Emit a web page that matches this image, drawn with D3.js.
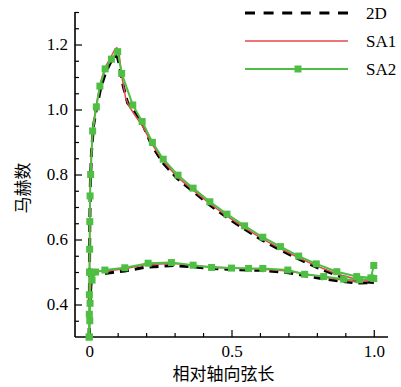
<!DOCTYPE html>
<html>
<head>
<meta charset="utf-8">
<script src="https://cdn.jsdelivr.net/npm/d3@7"></script>
<style>
  body { margin: 0; background: #fff; }
</style>
</head>
<body>
<svg id="chart" width="401" height="387"></svg>
<script>
// 2D (black dashed)
const d2UpperX = [0, 0.001, 0.002, 0.004, 0.008, 0.015, 0.025, 0.04, 0.056, 0.075, 0.09, 0.1, 0.11, 0.12, 0.135, 0.155, 0.19, 0.22, 0.26, 0.31, 0.365, 0.424, 0.484, 0.546, 0.61, 0.672, 0.736, 0.798, 0.87, 0.915, 0.96, 1.0]
const d2UpperM = [0.30, 0.50, 0.65, 0.77, 0.87, 0.95, 1.0, 1.065, 1.11, 1.145, 1.165, 1.16, 1.12, 1.07, 1.02, 1.0, 0.95, 0.89, 0.835, 0.787, 0.748, 0.706, 0.668, 0.632, 0.597, 0.568, 0.540, 0.515, 0.490, 0.475, 0.470, 0.468]
const d2LowerX = [0, 0.002, 0.006, 0.012, 0.025, 0.06, 0.125, 0.2, 0.3, 0.4, 0.5, 0.6, 0.7, 0.8, 0.9, 0.95, 1.0]
const d2LowerM = [0.30, 0.40, 0.46, 0.49, 0.497, 0.496, 0.503, 0.515, 0.52, 0.513, 0.508, 0.505, 0.498, 0.482, 0.47, 0.466, 0.467]

// SA1 (red)
const sa1UpperX = [0, 0.001, 0.002, 0.004, 0.008, 0.015, 0.025, 0.04, 0.056, 0.075, 0.09, 0.097, 0.105, 0.115, 0.128, 0.14, 0.155, 0.19, 0.22, 0.26, 0.31, 0.365, 0.424, 0.484, 0.546, 0.61, 0.672, 0.736, 0.798, 0.87, 0.94, 0.99, 1.0]
const sa1UpperM = [0.30, 0.50, 0.66, 0.78, 0.88, 0.96, 1.015, 1.085, 1.13, 1.16, 1.185, 1.19, 1.17, 1.10, 1.035, 1.01, 0.99, 0.945, 0.894, 0.841, 0.792, 0.752, 0.71, 0.672, 0.636, 0.601, 0.572, 0.544, 0.519, 0.494, 0.478, 0.474, 0.49]
const sa1LowerX = [0, 0.002, 0.006, 0.012, 0.025, 0.06, 0.125, 0.2, 0.3, 0.4, 0.5, 0.6, 0.7, 0.8, 0.9, 0.95, 1.0]
const sa1LowerM = [0.30, 0.40, 0.465, 0.495, 0.502, 0.503, 0.51, 0.523, 0.526, 0.518, 0.512, 0.509, 0.503, 0.488, 0.474, 0.47, 0.475]

// SA2 (green, square markers)
const sa2UpperX = [0, 0.0003, 0.0006, 0.001, 0.0015, 0.002, 0.003, 0.005, 0.012, 0.025, 0.0375, 0.056, 0.078, 0.1, 0.114, 0.153, 0.186, 0.222, 0.26, 0.312, 0.365, 0.424, 0.484, 0.546, 0.61, 0.672, 0.736, 0.798, 0.87, 0.94, 0.99, 1.0]
const sa2UpperM = [0.30, 0.37, 0.43, 0.50, 0.57, 0.655, 0.734, 0.80, 0.934, 1.008, 1.072, 1.125, 1.155, 1.178, 1.111, 1.014, 0.963, 0.899, 0.847, 0.798, 0.758, 0.716, 0.678, 0.642, 0.607, 0.578, 0.549, 0.525, 0.501, 0.486, 0.482, 0.52]
const sa2LowerX = [0, 0.002, 0.003, 0.002, 0.01, 0.022, 0.055, 0.125, 0.207, 0.289, 0.365, 0.43, 0.5, 0.56, 0.61, 0.698, 0.757, 0.824, 0.894, 0.95, 1.0]
const sa2LowerM = [0.30, 0.35, 0.404, 0.499, 0.475, 0.50, 0.506, 0.513, 0.527, 0.529, 0.521, 0.514, 0.512, 0.511, 0.511, 0.506, 0.493, 0.486, 0.478, 0.476, 0.48]

const xTicks = [0, 0.5, 1.0]
const yTicks = [0.4, 0.6, 0.8, 1.0, 1.2]
const legendLabels = ["2D", "SA1", "SA2"]

const red = "#e4474b"
const green = "#4fbf44"
const serif = '"Liberation Serif", "Times New Roman", "DejaVu Serif", serif'
const cjk = '"Noto Sans CJK SC", sans-serif'

const svg = d3.select("#chart")
const margin = {top: 12, right: 13, bottom: 50, left: 75}
const width = 401, height = 387

const x = d3.scaleLinear().domain([-0.05, 1.05]).range([margin.left, width - margin.right])
const y = d3.scaleLinear().domain([0.3, 1.3]).range([height - margin.bottom, margin.top])

const zip = (xs, ms) => xs.map((v, i) => [v, ms[i]])
const line = d3.line().x(d => x(d[0])).y(d => y(d[1]))

// axes
const xAxis = svg.append("g")
    .attr("transform", `translate(0, ${y(0.3)})`)
    .call(d3.axisBottom(x).tickValues(d3.range(0, 1.0001, 0.1)).tickSize(-4).tickFormat(""))
xAxis.select(".domain").attr("d", `M${x(-0.05)},0H${x(1.05)}`)
xAxis.selectAll(".tick").filter(d => xTicks.some(t => Math.abs(t - d) < 1e-6))
    .select("line").attr("y2", -7)
svg.append("g")
    .attr("transform", `translate(0, ${y(0.3)})`)
    .call(d3.axisBottom(x).tickValues(xTicks).tickSize(0).tickPadding(8).tickFormat(d => d === 0 ? "0" : d3.format(".1f")(d)))
    .call(g => g.select(".domain").remove())
    .selectAll("text").style("font-size", "17px").style("font-family", serif).attr("fill", "#000")

const yAxis = svg.append("g")
    .attr("transform", `translate(${x(-0.05)}, 0)`)
    .call(d3.axisLeft(y).tickValues(d3.range(0.35, 1.3001, 0.05)).tickSize(-4).tickFormat(""))
yAxis.select(".domain").attr("d", `M0,${y(0.3)}V${y(1.3)}`)
yAxis.selectAll(".tick").filter(d => yTicks.some(t => Math.abs(t - d) < 1e-6))
    .select("line").attr("x2", 7)
svg.append("g")
    .attr("transform", `translate(${x(-0.05)}, 0)`)
    .call(d3.axisLeft(y).tickValues(yTicks).tickSize(0).tickPadding(7).tickFormat(d3.format(".1f")))
    .call(g => g.select(".domain").remove())
    .selectAll("text").style("font-size", "17px").style("font-family", serif).attr("fill", "#000")

svg.selectAll(".domain").attr("stroke", "#000").attr("stroke-width", 1.6)
svg.selectAll(".tick line").attr("stroke", "#000").attr("stroke-width", 1.2)

// series
const plot = svg.append("g")
for (const [xs, ms] of [[d2UpperX, d2UpperM], [d2LowerX, d2LowerM]]) {
    plot.append("path").datum(zip(xs, ms))
        .attr("fill", "none").attr("stroke", "#000").attr("stroke-width", 3)
        .attr("stroke-dasharray", "9,6").attr("d", line)
}
for (const [xs, ms] of [[sa1UpperX, sa1UpperM], [sa1LowerX, sa1LowerM]]) {
    plot.append("path").datum(zip(xs, ms))
        .attr("fill", "none").attr("stroke", red).attr("stroke-width", 1.5).attr("d", line)
}
for (const [xs, ms] of [[sa2UpperX, sa2UpperM], [sa2LowerX, sa2LowerM]]) {
    const pts = zip(xs, ms)
    plot.append("path").datum(pts)
        .attr("fill", "none").attr("stroke", green).attr("stroke-width", 2).attr("d", line)
    plot.selectAll(null).data(pts).join("rect")
        .attr("x", d => x(d[0]) - 3.5).attr("y", d => y(d[1]) - 3.5)
        .attr("width", 7).attr("height", 7).attr("fill", green)
}

// legend
const legend = svg.append("g")
const ly = [13, 41, 69]
legend.append("line").attr("x1", 245).attr("x2", 348).attr("y1", ly[0]).attr("y2", ly[0])
    .attr("stroke", "#000").attr("stroke-width", 3).attr("stroke-dasharray", "10,8.6")
legend.append("line").attr("x1", 245).attr("x2", 348).attr("y1", ly[1]).attr("y2", ly[1])
    .attr("stroke", red).attr("stroke-width", 1.5)
legend.append("line").attr("x1", 245).attr("x2", 348).attr("y1", ly[2]).attr("y2", ly[2])
    .attr("stroke", green).attr("stroke-width", 2)
legend.append("rect").attr("x", 294.5).attr("y", ly[2] - 3.5).attr("width", 7).attr("height", 7).attr("fill", green)
legend.selectAll("text.lab").data(legendLabels).join("text")
    .attr("x", 366).attr("y", (d, i) => ly[i] + 6)
    .style("font-family", serif).style("font-size", "17px").text(d => d)

// axis titles
svg.append("text")
    .attr("x", x(0.5) - 8).attr("y", 380).attr("text-anchor", "middle")
    .style("font-family", cjk).style("font-size", "17px").text("相对轴向弦长")
svg.append("text")
    .attr("transform", "translate(29, 188) rotate(-90)").attr("text-anchor", "middle")
    .style("font-family", cjk).style("font-size", "17px").text("马赫数")
</script>
</body>
</html>
